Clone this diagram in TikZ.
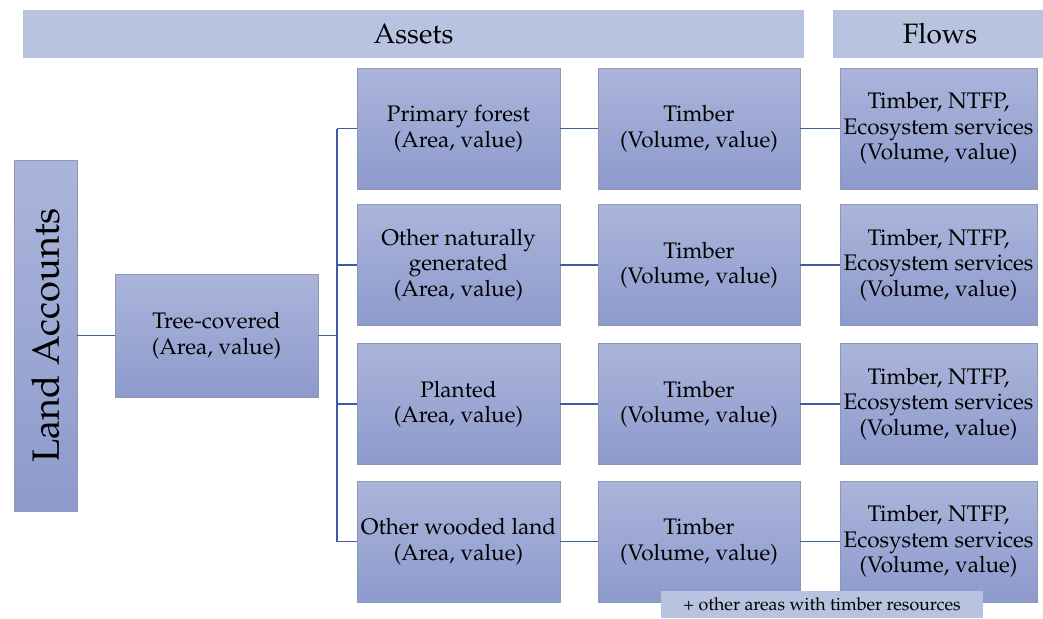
\documentclass[tikz,border=0pt]{standalone}
\usepackage[T1]{fontenc}
\renewcommand{\rmdefault}{ppl}
\definecolor{barfill}{HTML}{B8C3E0}
\definecolor{boxtop}{HTML}{ABB5DB}
\definecolor{boxbot}{HTML}{8D9ACC}
\definecolor{boxedge}{HTML}{8E97B6}
\definecolor{linkblue}{HTML}{3D5CA3}
\tikzset{
  cell/.style={draw=boxedge, line width=0.9pt, top color=boxtop, bottom color=boxbot,
    align=center, inner sep=0pt, minimum height=121pt,
    font=\fontsize{22.5}{25.5}\selectfont},
  headbar/.style={fill=barfill, inner sep=0pt, minimum height=48pt,
    font=\fontsize{28}{32}\selectfont},
  link/.style={draw=linkblue, line width=1.3pt}
}
\begin{document}
\begin{tikzpicture}[x=1pt,y=-1pt]
\useasboundingbox (0,0) rectangle (1043,618);

% header bars
\node[headbar, minimum width=781pt] (assets) at (413.5,34) {Assets};
\node[headbar, minimum width=214pt] (flows) at (940,34) {Flows};

% left column
\node[cell, rotate=90, minimum width=351pt, minimum height=63pt,
      font=\fontsize{38}{40}\selectfont] (land) at (45.5,335.5) {Land Accounts};
\node[cell, minimum width=203pt, minimum height=123pt] (tree) at (216.5,335.5)
  {Tree-covered\\(Area, value)};

% land types
\node[cell, minimum width=203pt] (a1) at (458.5,128.5) {Primary forest\\(Area, value)};
\node[cell, minimum width=203pt] (a2) at (458.5,265) {Other naturally\\generated\\(Area, value)};
\node[cell, minimum width=203pt] (a3) at (458.5,404) {Planted\\(Area, value)};
\node[cell, minimum width=203pt] (a4) at (458.5,541.5) {Other wooded land\\(Area, value)};

% timber stocks and flows
\foreach \i/\y in {1/128.5,2/265,3/404,4/541.5}{
  \node[cell, minimum width=202pt] (t\i) at (699,\y) {Timber\\(Volume, value)};
  \node[cell, minimum width=197pt] (f\i) at (938.5,\y)
    {Timber, NTFP,\\Ecosystem services\\(Volume, value)};
}

% footnote
\node[fill=barfill, minimum width=322pt, minimum height=27pt, inner sep=0pt,
      font=\fontsize{17.8}{19}\selectfont] (note) at (822,604.5)
  {+ other areas with timber resources};

% connectors
\coordinate (trunk) at (337,335.5);
\draw[link] (land.south) -- (tree.west);
\draw[link] (tree.east) -- (tree.east -| trunk);
\draw[link] (a1.west -| trunk) -- (a4.west -| trunk);
\foreach \i in {1,2,3,4}{
  \draw[link] (a\i.west -| trunk) -- (a\i.west);
  \draw[link] (a\i.east) -- (t\i.west);
  \draw[link] (t\i.east) -- (f\i.west);
}
\end{tikzpicture}
\end{document}
